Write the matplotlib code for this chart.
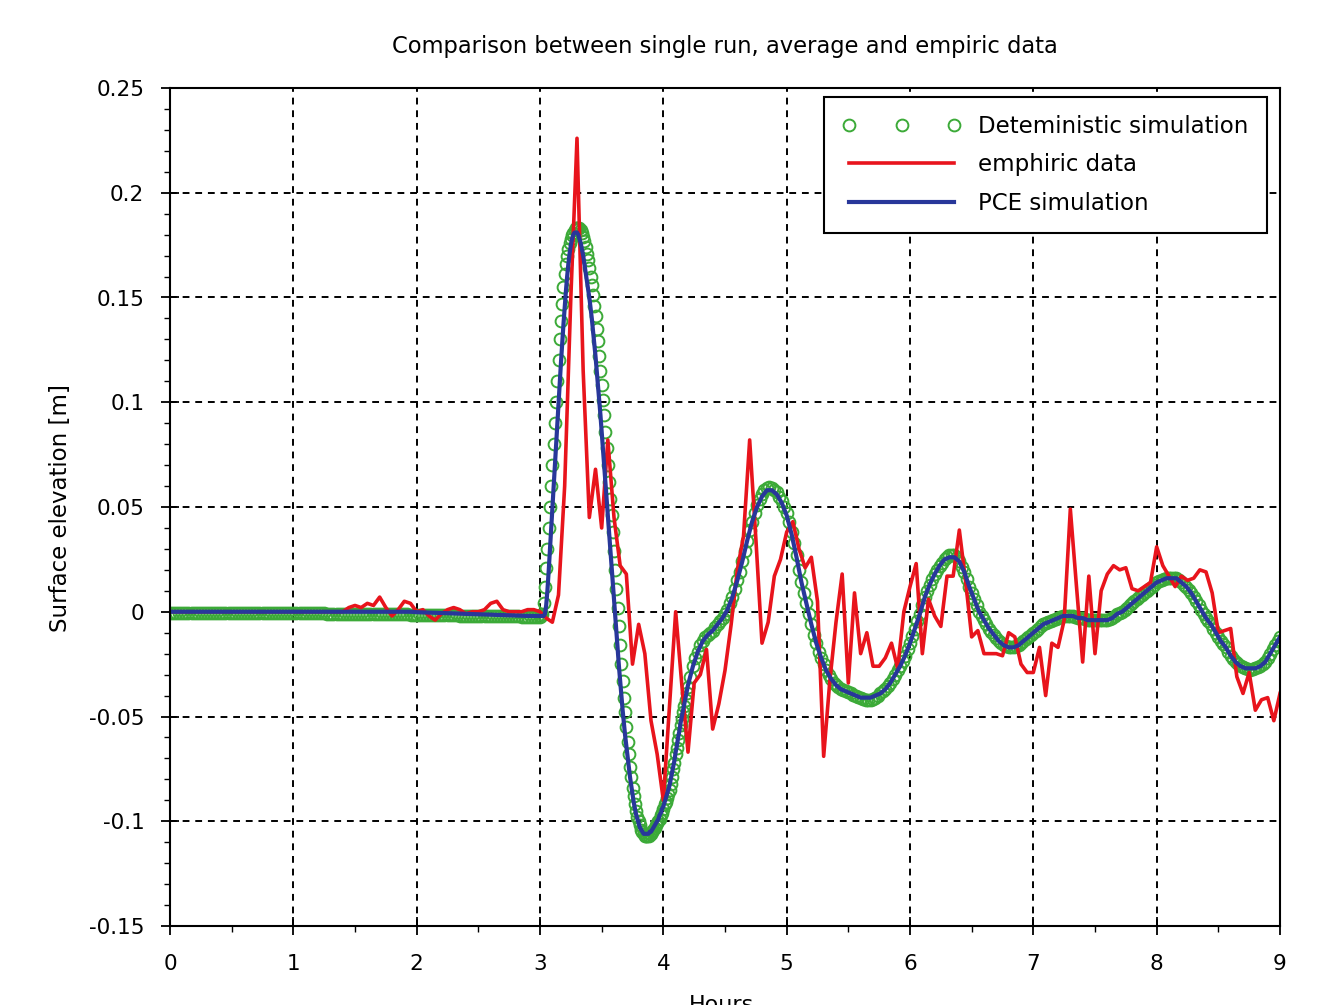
import numpy as np
import matplotlib
matplotlib.use("Agg")
import matplotlib.pyplot as plt
from matplotlib.ticker import MultipleLocator

plt.rcParams['font.family'] = ['DejaVu Sans']
plt.rcParams['axes.unicode_minus'] = False

# sample times (hours)
t_det = np.concatenate([np.linspace(0, 2.975, 120),
                        np.linspace(3.0, 4.19, 120),
                        np.linspace(4.2, 9.0, 241)])
t_pce = np.concatenate([np.linspace(0, 2.95, 60),
                        np.linspace(3.0, 4.19, 120),
                        np.linspace(4.2, 9.0, 121)])
t_emp = np.linspace(0, 9, 181)

# deterministic simulation (green circles)
det_a = [-0.0005, -0.0005, -0.0005, -0.0005, -0.0005, -0.0005, -0.0005, -0.0005, -0.0005, -0.0005,
         -0.0005, -0.0005, -0.0005, -0.0005, -0.0005, -0.0005, -0.0005, -0.0005, -0.0005, -0.0005,
         -0.0005, -0.0005, -0.0005, -0.0005, -0.0005, -0.0005, -0.0005, -0.0005, -0.0005, -0.0005,
         -0.0005, -0.0005, -0.0005, -0.0005, -0.0005, -0.0005, -0.0005, -0.0005, -0.0005, -0.0005,
         -0.0006, -0.0006, -0.0006, -0.0007, -0.0007, -0.0007, -0.0007, -0.0008, -0.0008, -0.0008,
         -0.0008, -0.0009, -0.0009, -0.0009, -0.0009, -0.001, -0.001, -0.001, -0.001, -0.001,
         -0.001, -0.0011, -0.0011, -0.0011, -0.0011, -0.0011, -0.0012, -0.0012, -0.0012, -0.0012,
         -0.0012, -0.0012, -0.0013, -0.0013, -0.0013, -0.0013, -0.0013, -0.0013, -0.0014, -0.0014,
         -0.0014, -0.0014, -0.0015, -0.0015, -0.0015, -0.0015, -0.0016, -0.0016, -0.0016, -0.0016,
         -0.0017, -0.0017, -0.0017, -0.0017, -0.0018, -0.0018, -0.0018, -0.0018, -0.0019, -0.0019,
         -0.0019, -0.0019, -0.002, -0.002, -0.002, -0.002, -0.0021, -0.0021, -0.0021, -0.0021,
         -0.0022, -0.0022, -0.0022, -0.0022, -0.0023, -0.0023, -0.0023, -0.0023, -0.0024, -0.0024]
det_b = [-0.0025, -0.002, -0.001, 0.004, 0.012, 0.021, 0.030, 0.040, 0.050, 0.060,
         0.070, 0.080, 0.090, 0.100, 0.110, 0.120, 0.130, 0.139, 0.147, 0.155,
         0.161, 0.166, 0.170, 0.173, 0.176, 0.178, 0.180, 0.181, 0.182, 0.183,
         0.183, 0.183, 0.183, 0.182, 0.181, 0.179, 0.177, 0.174, 0.171, 0.168,
         0.164, 0.160, 0.156, 0.151, 0.146, 0.141, 0.135, 0.129, 0.122, 0.115,
         0.108, 0.101, 0.094, 0.086, 0.078, 0.070, 0.062, 0.054, 0.046, 0.038,
         0.029, 0.020, 0.011, 0.002, -0.007, -0.016, -0.025, -0.033, -0.041, -0.048,
         -0.055, -0.062, -0.068, -0.074, -0.079, -0.084, -0.088, -0.092, -0.095, -0.098,
         -0.100, -0.102, -0.104, -0.105, -0.106, -0.107, -0.107, -0.107, -0.107, -0.106,
         -0.106, -0.105, -0.104, -0.103, -0.102, -0.101, -0.100, -0.099, -0.097, -0.096,
         -0.094, -0.092, -0.091, -0.089, -0.087, -0.085, -0.082, -0.079, -0.075, -0.072,
         -0.068, -0.065, -0.061, -0.058, -0.054, -0.051, -0.048, -0.045, -0.042, -0.039]
det_c = [-0.036, -0.031, -0.026, -0.022, -0.019, -0.016, -0.014, -0.012, -0.011, -0.010,
         -0.009, -0.0075, -0.006, -0.0045, -0.003, -0.001, 0.001, 0.004, 0.007, 0.011,
         0.015, 0.019, 0.024, 0.029, 0.034, 0.039, 0.043, 0.047, 0.051, 0.054,
         0.056, 0.058, 0.059, 0.0595, 0.059, 0.058, 0.057, 0.055, 0.053, 0.050,
         0.047, 0.043, 0.038, 0.033, 0.027, 0.020, 0.014, 0.009, 0.004, -0.001,
         -0.006, -0.011, -0.015, -0.019, -0.022, -0.025, -0.028, -0.030, -0.032, -0.034,
         -0.035, -0.036, -0.037, -0.0375, -0.038, -0.0385, -0.039, -0.0395, -0.040, -0.0405,
         -0.041, -0.0415, -0.042, -0.042, -0.042, -0.0415, -0.041, -0.040, -0.039, -0.038,
         -0.037, -0.0355, -0.034, -0.032, -0.030, -0.028, -0.026, -0.0235, -0.021, -0.018,
         -0.015, -0.0115, -0.008, -0.0045, -0.001, 0.003, 0.007, 0.010, 0.013, 0.0155,
         0.018, 0.020, 0.022, 0.0235, 0.025, 0.026, 0.027, 0.0272, 0.027, 0.026,
         0.024, 0.0215, 0.019, 0.0155, 0.012, 0.009, 0.006, 0.003, 0.000, -0.002,
         -0.004, -0.006, -0.008, -0.0095, -0.011, -0.0125, -0.014, -0.015, -0.016, -0.0165,
         -0.017, -0.017, -0.017, -0.0165, -0.016, -0.015, -0.014, -0.013, -0.012, -0.011,
         -0.010, -0.009, -0.008, -0.007, -0.006, -0.0055, -0.005, -0.0045, -0.004, -0.0035,
         -0.003, -0.0025, -0.002, -0.002, -0.002, -0.002, -0.002, -0.0025, -0.003, -0.003,
         -0.003, -0.0035, -0.004, -0.004, -0.004, -0.004, -0.004, -0.004, -0.004, -0.004,
         -0.004, -0.0035, -0.003, -0.002, -0.001, -0.0005, 0.000, 0.001, 0.002, 0.003,
         0.004, 0.005, 0.006, 0.007, 0.008, 0.009, 0.010, 0.011, 0.012, 0.013,
         0.014, 0.0145, 0.015, 0.0155, 0.016, 0.016, 0.016, 0.016, 0.016, 0.015,
         0.014, 0.013, 0.012, 0.0105, 0.009, 0.007, 0.005, 0.003, 0.001, -0.001,
         -0.003, -0.0045, -0.006, -0.008, -0.010, -0.012, -0.014, -0.0155, -0.017, -0.019,
         -0.021, -0.0225, -0.024, -0.025, -0.026, -0.0265, -0.027, -0.0275, -0.028, -0.0275,
         -0.027, -0.0265, -0.026, -0.025, -0.024, -0.022, -0.020, -0.018, -0.016, -0.014,
         -0.012]

# PCE simulation (blue line)
pce_a = [0.0, 0.0, 0.0, 0.0, 0.0, 0.0, 0.0, 0.0, 0.0, 0.0,
         0.0, 0.0, 0.0, 0.0, 0.0, 0.0, 0.0, 0.0, 0.0, 0.0,
         0.0, 0.0, 0.0, 0.0, 0.0, 0.0, 0.0, 0.0, 0.0, 0.0,
         0.0, 0.0, 0.0, 0.0, 0.0, 0.0, 0.0, 0.0, 0.0, 0.0,
         -0.0002, -0.0003, -0.0004, -0.0005, -0.0006, -0.0007, -0.0008, -0.0009, -0.001, -0.0011,
         -0.0012, -0.0013, -0.0014, -0.0015, -0.0016, -0.0017, -0.0018, -0.0019, -0.002, -0.002]
pce_b = [-0.002, -0.002, -0.002, -0.002, -0.001, 0.003, 0.010, 0.019, 0.029, 0.039,
         0.049, 0.059, 0.069, 0.079, 0.089, 0.099, 0.109, 0.119, 0.128, 0.137,
         0.145, 0.153, 0.160, 0.166, 0.171, 0.175, 0.178, 0.180, 0.181, 0.181,
         0.181, 0.180, 0.178, 0.176, 0.173, 0.170, 0.166, 0.162, 0.158, 0.154,
         0.150, 0.145, 0.140, 0.134, 0.128, 0.122, 0.115, 0.108, 0.101, 0.094,
         0.086, 0.078, 0.070, 0.062, 0.054, 0.046, 0.038, 0.030, 0.022, 0.014,
         0.006, -0.002, -0.010, -0.018, -0.026, -0.033, -0.040, -0.047, -0.053, -0.059,
         -0.064, -0.069, -0.074, -0.079, -0.083, -0.087, -0.091, -0.094, -0.097, -0.099,
         -0.101, -0.103, -0.104, -0.105, -0.106, -0.106, -0.106, -0.106, -0.106, -0.105,
         -0.105, -0.104, -0.103, -0.102, -0.101, -0.100, -0.099, -0.097, -0.096, -0.094,
         -0.093, -0.091, -0.089, -0.087, -0.085, -0.083, -0.080, -0.077, -0.074, -0.071,
         -0.067, -0.064, -0.060, -0.057, -0.053, -0.050, -0.047, -0.044, -0.041, -0.038]
pce_c = [-0.035, -0.026, -0.019, -0.014, -0.011, -0.009, -0.006, -0.003, 0.001, 0.007,
         0.015, 0.024, 0.034, 0.043, 0.050, 0.055, 0.058, 0.058, 0.056, 0.052,
         0.046, 0.037, 0.026, 0.014, 0.004, -0.006, -0.015, -0.022, -0.028, -0.032,
         -0.035, -0.037, -0.038, -0.039, -0.040, -0.041, -0.041, -0.041, -0.040, -0.039,
         -0.037, -0.034, -0.030, -0.026, -0.021, -0.015, -0.008, -0.001, 0.007, 0.013,
         0.018, 0.022, 0.025, 0.026, 0.026, 0.024, 0.019, 0.012, 0.006, 0.000,
         -0.004, -0.008, -0.011, -0.014, -0.016, -0.017, -0.017, -0.016, -0.014, -0.012,
         -0.010, -0.008, -0.006, -0.005, -0.004, -0.003, -0.002, -0.002, -0.002, -0.003,
         -0.003, -0.004, -0.004, -0.004, -0.004, -0.004, -0.003, -0.001, 0.000, 0.002,
         0.004, 0.006, 0.008, 0.010, 0.012, 0.014, 0.015, 0.016, 0.016, 0.016,
         0.014, 0.012, 0.009, 0.005, 0.001, -0.003, -0.006, -0.010, -0.014, -0.017,
         -0.021, -0.024, -0.026, -0.027, -0.027, -0.027, -0.026, -0.024, -0.020, -0.016,
         -0.012]

# empiric measurements (red line), every 0.05 h
emp = [0.0, 0.0, 0.0, 0.0, 0.0, 0.0, 0.0, 0.0, 0.0, 0.0,
       0.0, 0.0, 0.0, 0.0, 0.0, 0.0, 0.0, 0.0, 0.0, 0.0,
       0.0, 0.0, 0.0, 0.0, 0.0, 0.0, 0.0, 0.0, 0.0, 0.002,
       0.003, 0.002, 0.004, 0.003, 0.007, 0.002, -0.002, 0.001, 0.005, 0.004,
       0.000, 0.001, -0.002, -0.004, -0.001, 0.001, 0.002, 0.001, -0.001, 0.000,
       0.000, 0.001, 0.004, 0.005, 0.001, 0.000, 0.000, 0.000, 0.001, 0.001,
       0.000, -0.003, -0.005, 0.008, 0.060, 0.150, 0.226, 0.115, 0.045, 0.068,
       0.040, 0.082, 0.045, 0.022, 0.018, -0.025, -0.006, -0.020, -0.052, -0.068,
       -0.090, -0.045, 0.000, -0.035, -0.067, -0.034, -0.030, -0.018, -0.056, -0.044,
       -0.028, -0.006, 0.020, 0.036, 0.082, 0.035, -0.015, -0.005, 0.017, 0.025,
       0.038, 0.043, 0.030, 0.021, 0.026, 0.005, -0.069, -0.033, -0.005, 0.018,
       -0.034, 0.009, -0.020, -0.010, -0.026, -0.026, -0.022, -0.015, -0.027, 0.000,
       0.012, 0.023, -0.020, 0.006, -0.002, -0.007, 0.017, 0.017, 0.039, 0.015,
       -0.012, -0.009, -0.020, -0.020, -0.020, -0.021, -0.010, -0.012, -0.025, -0.029,
       -0.029, -0.017, -0.040, -0.015, -0.017, -0.004, 0.049, 0.012, -0.024, 0.017,
       -0.020, 0.010, 0.018, 0.022, 0.020, 0.021, 0.011, 0.010, 0.012, 0.014,
       0.031, 0.022, 0.017, 0.012, 0.017, 0.015, 0.016, 0.020, 0.019, 0.009,
       -0.010, -0.009, -0.008, -0.031, -0.039, -0.029, -0.047, -0.042, -0.041, -0.052,
       -0.039]

det = det_a + det_b + det_c
pce = pce_a + pce_b + pce_c

x_ticks = [0, 1, 2, 3, 4, 5, 6, 7, 8, 9]
y_ticks = [-0.15, -0.1, -0.05, 0, 0.05, 0.1, 0.15, 0.2, 0.25]
y_labels = ["-0.15", "-0.1", "-0.05", "0", "0.05", "0.1", "0.15", "0.2", "0.25"]

fig = plt.figure(figsize=(13.26, 10.05), dpi=100)
ax = fig.add_axes([170/1326, 1 - 926/1005, 1110/1326, 838/1005])

ax.plot(t_det, det, linestyle="none", marker="o", markersize=8.5, markerfacecolor="none",
        markeredgecolor="#3caa38", markeredgewidth=1.4, label="Deteministic simulation")
ax.plot(t_emp, emp, color="#e8141c", lw=2.6, label="emphiric data")
ax.plot(t_pce, pce, color="#28379a", lw=3, label="PCE simulation")

ax.set_xlim(0, 9)
ax.set_ylim(-0.15, 0.25)
ax.set_xticks(x_ticks)
ax.set_yticks(y_ticks)
ax.set_yticklabels(y_labels)
ax.xaxis.set_minor_locator(MultipleLocator(0.5))
ax.yaxis.set_minor_locator(MultipleLocator(0.01))
ax.tick_params(which="major", direction="inout", length=13, width=1.3, labelsize=15.5, pad=12)
ax.tick_params(axis="x", which="major", pad=14)
ax.tick_params(which="minor", direction="out", length=4, width=1.0)
ax.grid(True, which="major", color="black", linestyle=(0, (3.5, 3)), linewidth=1.4)
ax.set_axisbelow(True)
for s in ax.spines.values():
    s.set_linewidth(1.5)

leg = ax.legend(loc="upper right", bbox_to_anchor=(0.9883, 0.9893), borderaxespad=0,
                fontsize=16.5, numpoints=3, handlelength=5.2, handletextpad=0.75,
                borderpad=0.8, labelspacing=0.66, fancybox=False, framealpha=1)
leg.get_frame().set_edgecolor("black")
leg.get_frame().set_linewidth(1.5)

fig.text(725/1326, 1 - 47/1005, "Comparison between single run, average and empiric data",
         ha="center", va="center", fontsize=16.3)
fig.text(60/1326, 1 - 508/1005, "Surface elevation [m]", rotation=90,
         ha="center", va="center", fontsize=16.5)
fig.text(722/1326, 1 - 995/1005, "Hours", ha="center", va="top", fontsize=16)

fig.savefig("out.png", dpi=100)
